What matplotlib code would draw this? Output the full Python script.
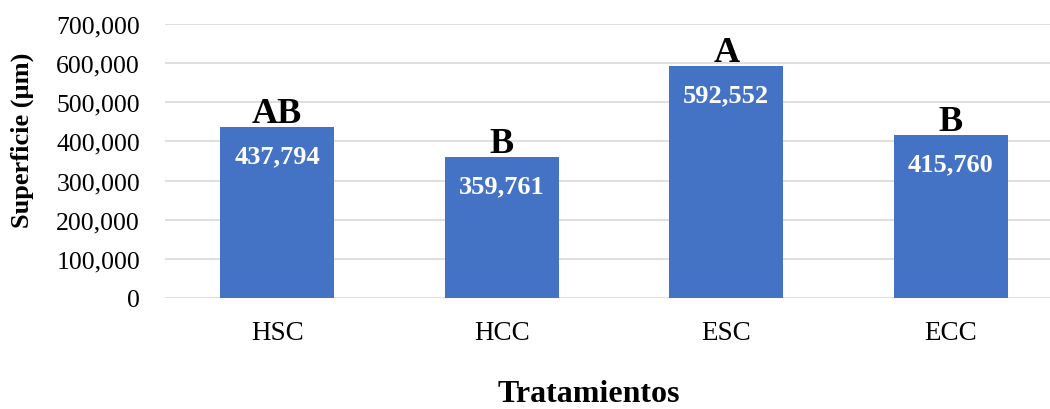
import matplotlib.pyplot as plt
from matplotlib.ticker import FuncFormatter

plt.rcParams['font.family'] = ['Liberation Serif', 'DejaVu Serif']

tratamientos = ['HSC', 'HCC', 'ESC', 'ECC']
superficie = [437794, 359761, 592552, 415760]
letras = ['AB', 'B', 'A', 'B']

fig = plt.figure(figsize=(10.5, 4.1), dpi=100)
ax = fig.add_axes([165 / 1050, 111 / 410, 898 / 1050, 274 / 410])

x = range(len(tratamientos))
bars = ax.bar(x, superficie, width=0.51, color='#4472C4', zorder=3)

ax.set_xlim(-0.5, 3.5)
ax.set_ylim(0, 700000)
ax.set_yticks(range(0, 700001, 100000))
ax.yaxis.set_major_formatter(FuncFormatter(lambda v, p: f'{v:,.0f}'))
ax.set_xticks(list(x))
ax.set_xticklabels(tratamientos)
ax.tick_params(axis='both', length=0, colors='black')
ax.tick_params(axis='x', labelsize=19.5, pad=16)
ax.tick_params(axis='y', labelsize=18.5, pad=18)

ax.grid(axis='y', color='#d9d9d9', linewidth=1.2, zorder=0)
for s in ax.spines.values():
    s.set_visible(False)

for b, v, l in zip(bars, superficie, letras):
    cx = b.get_x() + b.get_width() / 2
    ax.annotate(f'{v:,.0f}', (cx, v), xytext=(0, -29), textcoords='offset pixels',
                ha='center', va='center', color='white', fontsize=19, fontweight='bold')
    ax.annotate(l, (cx, v), xytext=(0, 5), textcoords='offset pixels',
                ha='center', va='baseline', color='black', fontsize=26, fontweight='bold')

fig.text(22 / 1050, 1 - 140 / 410, 'Superficie (µm)', rotation=90, ha='center', va='center',
         fontsize=19, fontweight='bold')
fig.text(589 / 1050, 1 / 410, 'Tratamientos', ha='center', va='bottom',
         fontsize=23, fontweight='bold')

fig.savefig('out.png', dpi=100)
